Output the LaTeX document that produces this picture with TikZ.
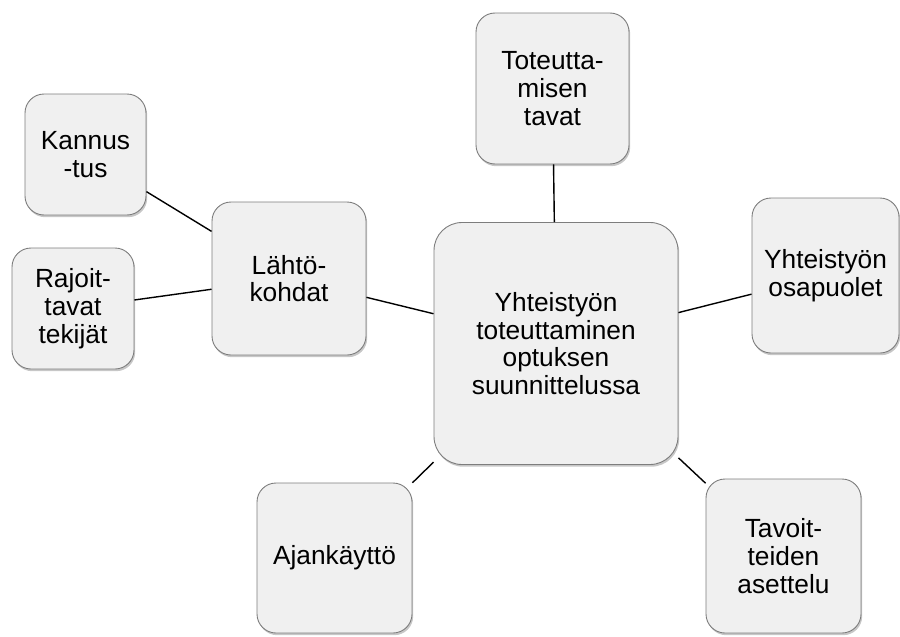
\documentclass[tikz,border=0pt]{standalone}
\usepackage{fontspec}
\setmainfont{Liberation Sans}
\usetikzlibrary{shadows}
\definecolor{boxfill}{RGB}{240,240,240}
\definecolor{boxline}{RGB}{125,125,125}
\begin{document}
\begin{tikzpicture}[x=1pt,y=-1pt,
  card/.style={draw=boxline, line width=0.9pt, fill=boxfill, rounded corners=19pt,
    align=center, inner sep=0pt,
    font=\fontsize{26.3}{27.7}\selectfont,
    drop shadow={shadow xshift=1.2pt, shadow yshift=-2.2pt, fill=black, opacity=0.22}},
  link/.style={draw=black, line width=1.4pt}]
\useasboundingbox (0,0) rectangle (900,637);
\node[card, rounded corners=28pt, minimum width=244pt, minimum height=242pt] (c) at (556,343.5)
  {Yhteistyön\\toteuttaminen\\optuksen\\suunnittelussa};
\node[card, minimum width=153pt, minimum height=151pt] (tot) at (552.5,88.5) {Toteutta-\\misen\\tavat};
\node[card, minimum width=147pt, minimum height=155pt] (osa) at (825.5,275.5) {Yhteistyön\\osapuolet};
\node[card, minimum width=155pt, minimum height=154pt] (tav) at (783.5,556) {Tavoit-\\teiden\\asettelu};
\node[card, minimum width=155pt, minimum height=150pt] (ajk) at (334.5,558) {Ajankäyttö};
\node[card, minimum width=154pt, minimum height=153pt] (lah) at (289,278.5) {Lähtö-\\kohdat};
\node[card, minimum width=121pt, minimum height=121pt] (kan) at (85.5,154.5) {Kannus\\-tus};
\node[card, minimum width=122pt, minimum height=121pt] (raj) at (73,308.5) {Rajoit-\\tavat\\tekijät};
\draw[link] (c) -- (tot);
\draw[link] (c) -- (osa);
\draw[link] (c) -- (tav);
\draw[link] (c) -- (ajk);
\draw[link] (c) -- (lah);
\draw[link] (lah) -- (kan);
\draw[link] (lah) -- (raj);
\end{tikzpicture}
\end{document}
